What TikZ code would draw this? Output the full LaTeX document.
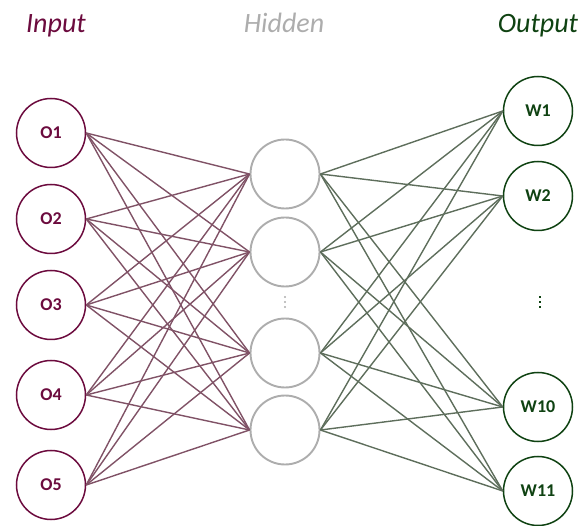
\documentclass[tikz,border=0pt]{standalone}
\usepackage{fontspec}
\setmainfont{Carlito}
\usepackage{tikz}
\usetikzlibrary{bayesnet}

\definecolor{inred}{HTML}{6C0B3E}
\definecolor{hidgray}{HTML}{ADADAD}
\definecolor{outgreen}{HTML}{0F4212}
\definecolor{inlinkc}{HTML}{805266}
\definecolor{outlinkc}{HTML}{5E6E5C}

\tikzset{
  neuron/.style={circle, minimum size=69pt, inner sep=0pt, line width=1.5pt, fill=white},
  innode/.style={neuron, draw=inred, text=inred, font=\fontsize{18}{20}\selectfont\bfseries},
  hidnode/.style={neuron, draw=hidgray, line width=1.9pt},
  outnode/.style={neuron, draw=outgreen, text=outgreen, font=\fontsize{18}{20}\selectfont\bfseries},
  title/.style={font=\fontsize{28}{32}\selectfont\itshape, anchor=base},
  inlink/.style={-, line width=1.4pt, draw=inlinkc},
  outlink/.style={-, line width=1.4pt, draw=outlinkc},
}

\begin{document}
\begin{tikzpicture}[x=1pt, y=-1pt]
    \useasboundingbox (0,0) rectangle (581,526);

    % Titles
    \node[title, text=inred]    (tin)  at (56,33)  {Input};
    \node[title, text=hidgray]  (thid) at (284,33) {Hidden};
    \node[title, text=outgreen] (tout) at (538,33) {Output};

    % Input layer
    \node[innode] (o1) at (51,133) {O1};
    \node[innode] (o2) at (51,219) {O2};
    \node[innode] (o3) at (51,305) {O3};
    \node[innode] (o4) at (51,395) {O4};
    \node[innode] (o5) at (51,485) {O5};

    % Hidden layer
    \node[hidnode] (h1) at (285,174) {};
    \node[hidnode] (h2) at (285,252) {};
    \node[hidnode] (h3) at (285,353) {};
    \node[hidnode] (h4) at (285,430) {};

    % Output layer
    \node[outnode] (w1)  at (538,111) {W1};
    \node[outnode] (w2)  at (538,196) {W2};
    \node[outnode] (w10) at (538,407) {W10};
    \node[outnode] (w11) at (538,491) {W11};

    % Skipped units
    \foreach \y in {297,302,307} {
      \fill[hidgray] (285,\y) circle (1.1pt);
      \fill[outgreen] (539,\y-1.2) rectangle ++(2.4,2.4);
    }

    % Connect layers
    \edge[inlink]{o1.east,o2.east,o3.east,o4.east,o5.east}{h1.west,h2.west,h3.west,h4.west};
    \edge[outlink]{h1.east,h2.east,h3.east,h4.east}{w1.west,w2.west,w10.west,w11.west};
\end{tikzpicture}
\end{document}
